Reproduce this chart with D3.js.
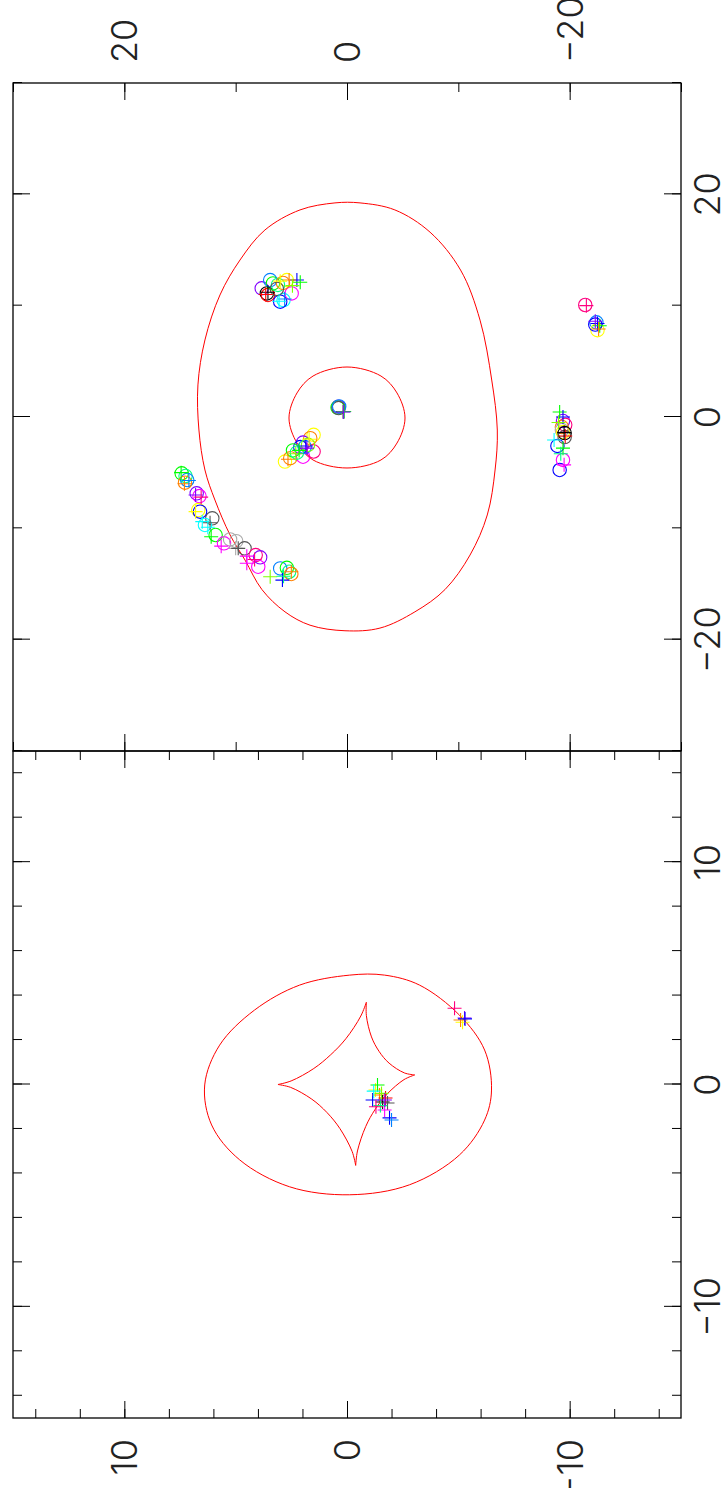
<!DOCTYPE html>
<html><head><meta charset="utf-8">
<script src="https://cdn.jsdelivr.net/npm/d3@7"></script>
<style>html,body{margin:0;padding:0;background:#fff;} svg{display:block;}</style>
</head><body>
<script>
// ---------- data ----------
const palette = ["#000000","#ff0000","#00ff00","#0000ff","#00ffff","#ff00ff","#ffff00","#ff8000",
                 "#80ff00","#00ff80","#0080ff","#8000ff","#ff0080","#555555","#aaaaaa"];

// source plane (left panel) tick values
const srcMajorTicks = [-10, 0, 10];
const srcMinorTicks = [-14,-12,-10,-8,-6,-4,-2,0,2,4,6,8,10,12,14];
const srcTickLabels = ["\u221210", "0", "10"];
// image plane (right panel) tick values
const imgMajorTicks = [-20, 0, 20];
const imgMinorTicks = [-30,-20,-10,0,10,20,30];
const imgTickLabels = ["\u221220", "0", "20"];

// outer critical curve (image plane)
const outerCritical = [[19.23,1.08],[18.6,4.22],[16.8,7.37],[14.1,9.61],[10.96,11.41],[6.92,12.76],[2.88,13.39],
  [-1.17,13.3],[-4.76,12.76],[-7.46,11.86],[-10.6,10.5],[-12.85,9.16],[-15.5,7.64],[-17.5,5.57],[-18.7,3.32],
  [-19.2,0.18],[-18.96,-2.96],[-17.5,-6.1],[-15.5,-8.8],[-12.4,-11.05],[-8.8,-12.6],[-4.76,-13.3],[-1.17,-13.5],
  [3.32,-13.0],[8.7,-11.95],[13.2,-10.2],[16.6,-7.46],[18.6,-4.3],[19.23,-1.17]];
// inner critical curve (image plane)
const innerCritical = [[-0.09,5.21],[2.16,4.49],[3.68,3.05],[4.49,0],[3.68,-3.05],[2.16,-4.49],[-0.09,-5.21],
  [-2.34,-4.49],[-3.86,-3.05],[-4.58,0],[-3.86,3.05],[-2.34,4.49]];
// outer caustic (source plane)
const outerCaustic = [[4.92,-0.12],[4.47,2.13],[3.35,4.15],[1.77,5.72],[-0.02,6.39],[-1.82,6.08],[-3.39,4.82],
  [-4.6,2.58],[-4.96,-0.12],[-4.51,-2.81],[-3.17,-5.05],[-1.6,-6.18],[-0.25,-6.49],[1.55,-6.18],[3.12,-5.05],
  [4.47,-3.26],[4.92,-1.69]];
// astroid caustic (source plane), four arcs between cusps
const astroidArcs = [
  [[3.7,-0.87],[3.08,-0.62],[2.06,0.05],[1.34,0.73],[0.72,1.49],[0.16,2.51],[0,3.1]],
  [[0,3.1],[-0.13,2.53],[-0.66,1.58],[-1.26,0.9],[-1.98,0.32],[-3.01,-0.23],[-3.64,-0.39]],
  [[-3.64,-0.39],[-2.99,-0.47],[-1.89,-0.84],[-1.11,-1.27],[-0.43,-1.8],[0.22,-2.56],[0.43,-3.04]],
  [[0.43,-3.04],[0.52,-2.58],[0.96,-1.89],[1.49,-1.44],[2.14,-1.1],[3.1,-0.87],[3.7,-0.87]]
];

// observed images (circles) in image plane: x, y, colour index
const imgCircles = [
  [-5.06,14.85,2],[-5.3,14.5,9],[-5.66,14.35,10],[-5.9,14.55,7],[-6.86,13.5,11],[-7.1,13.25,5],[-8.36,13.36,6],
  [-8.5,13.2,3],[-9.1,12.1,13],[-9.7,12.76,4],[-10.6,11.8,2],[-11.35,11.05,5],[-11.0,10.5,14],[-11.15,9.95,14],
  [-11.8,9.2,13],[-12.4,8.2,12],[-12.6,7.8,11],[-13.45,7.97,5],[-13.6,6.0,10],[-13.55,5.4,2],[-13.9,5.2,9],[-14.1,5.0,7],
  [11.56,7.66,11],[11.1,7.2,0],[10.96,7.1,1],[12.0,6.65,2],[12.3,6.9,10],[12.3,5.4,6],[10.5,5.7,4],[10.36,6.0,3],
  [11.1,4.97,5],[11.86,6.2,9],[12.04,5.75,7],[11.5,6.3,13],
  [0.93,0.78,11],[0.85,0.85,2],[0.8,0.75,13],[0.95,0.7,10],
  [-4.0,5.57,6],[-3.7,5.1,7],[-1.6,3.0,6],[-1.9,3.3,7],[-2.3,3.95,11],[-2.7,4.2,3],[-3.57,3.95,5],[-3.1,3.0,12],
  [-3.0,4.85,2],[-3.2,4.5,9],[-2.7,3.8,10],[-2.5,3.5,8],
  [-4.76,-19.1,3],[-3.86,-19.4,5],[-2.6,-18.9,3],[-0.36,-19.4,11],[-0.7,-19.6,12],[-0.9,-19.3,7],[-1.17,-19.3,14],
  [-1.35,-19.4,6],[-1.44,-19.55,0],[-1.8,-19.55,13],
  [10.06,-21.4,12],[8.5,-22.4,10],[7.8,-22.5,6],[8.3,-22.3,3]
];
// predicted images (plus) in image plane
const imgPluses = [
  [-5.0,14.9,2],[-6.0,14.6,7],[-5.7,14.2,10],[-7.0,13.6,11],[-7.2,13.1,12],[-8.5,13.6,6],[-9.4,13.0,4],[-9.5,12.3,13],
  [-9.9,12.5,4],[-10.75,12.2,2],[-11.6,11.3,5],[-11.8,10.0,14],[-11.8,9.77,13],[-12.5,9.0,5],[-12.8,8.3,12],[-13.14,9.0,5],
  [-14.35,6.9,8],[-14.65,5.8,3],[-14.3,5.7,9],[-13.9,5.0,7],
  [12.3,4.5,3],[12.1,4.2,2],[12.3,5.2,7],[10.6,5.6,10],[11.2,7.1,0],[11.8,4.9,8],[11.0,7.3,1],[12.2,6.0,6],[10.4,6.1,4],
  [0.48,0.36,13],[0.5,0.25,2],[0.45,0.3,11],
  [-3.8,5.3,7],[-3.3,4.6,8],[-2.6,3.7,3],[-2.0,3.4,6],[-3.0,4.3,2],[-2.8,3.6,11],
  [0.45,-19.1,2],[0.0,-19.4,3],[-2.07,-18.6,4],[-2.8,-19.4,2],[-1.7,-19.6,1],[-1.4,-19.5,0],[-0.5,-19.0,8],
  [-4.3,-19.5,5],[-3.3,-19.2,9],
  [10.0,-21.5,12],[8.4,-22.5,3],[8.2,-22.7,2],[8.6,-22.3,11],[7.9,-22.6,7]
];
// source positions (plus) in source plane
const srcPluses = [
  [-0.25,-1.28,6],[-0.02,-1.37,2],[-0.70,-1.15,3],[-0.47,-1.46,7],[-0.79,-1.60,0],[-0.61,-1.73,1],[-0.83,-1.82,13],
  [-1.15,-1.69,5],[-1.5,-1.91,3],[-1.6,-2.0,10],[-0.95,-1.5,9],[-0.3,-1.2,4],[-0.4,-1.55,8],[-1.0,-1.3,12],[-0.7,-1.7,11],
  [3.43,-4.83,12],[2.99,-5.28,11],[2.8,-5.19,6],[2.9,-5.1,7],[2.95,-5.3,3]
];

// ---------- drawing ----------
const W = 728, H = 1488;
const svg = d3.select("body").append("svg").attr("width", W).attr("height", H);
svg.append("rect").attr("width", W).attr("height", H).attr("fill", "#fff");
// landscape frame rotated into portrait page
const g = svg.append("g").attr("transform", `translate(0,${H}) rotate(-90)`);

const yTop = 13, yBot = 681;
const srcX = d3.scaleLinear().domain([-15, 15]).range([70, 737]);
const srcY = d3.scaleLinear().domain([-15, 15]).range([yBot, yTop]);
const imgX = d3.scaleLinear().domain([-30, 30]).range([737, 1405]);
const imgY = d3.scaleLinear().domain([-30, 30]).range([yBot, yTop]);

const FONT = "Inter, 'DejaVu Sans', sans-serif";
const FS = 36;
const MAJ = 17, MIN = 9;

function drawAxes(xs, ys, majT, minT, labels, yLabelSide) {
  const x0 = xs.range()[0], x1 = xs.range()[1];
  const bMin = d3.axisBottom(xs).tickValues(minT).tickSize(-MIN).tickFormat("");
  const bMaj = d3.axisBottom(xs).tickValues(majT).tickSize(-MAJ).tickFormat("");
  const tMin = d3.axisTop(xs).tickValues(minT).tickSize(-MIN).tickFormat("");
  const tMaj = d3.axisTop(xs).tickValues(majT).tickSize(-MAJ).tickFormat("");
  const lMin = d3.axisLeft(ys).tickValues(minT).tickSize(-MIN).tickFormat("");
  const lMaj = d3.axisLeft(ys).tickValues(majT).tickSize(-MAJ).tickFormat("");
  const rMin = d3.axisRight(ys).tickValues(minT).tickSize(-MIN).tickFormat("");
  const rMaj = d3.axisRight(ys).tickValues(majT).tickSize(-MAJ).tickFormat("");
  [[bMin,`translate(0,${yBot})`],[bMaj,`translate(0,${yBot})`],
   [tMin,`translate(0,${yTop})`],[tMaj,`translate(0,${yTop})`],
   [lMin,`translate(${x0},0)`],[lMaj,`translate(${x0},0)`],
   [rMin,`translate(${x1},0)`],[rMaj,`translate(${x1},0)`]].forEach(([a,t]) => {
    const s = g.append("g").attr("transform", t).call(a);
    s.select(".domain").remove();
    s.selectAll("line").attr("stroke", "#000").attr("stroke-width", 1);
  });
  g.append("rect").attr("x", x0).attr("y", yTop).attr("width", x1 - x0).attr("height", yBot - yTop)
    .attr("fill", "none").attr("stroke", "#000").attr("stroke-width", 1.3);
  g.append("g").selectAll("text").data(majT).join("text")
    .attr("x", d => xs(d)).attr("y", yBot + 39)
    .attr("text-anchor", "middle").attr("font-family", FONT).attr("font-weight", 300)
    .attr("font-size", FS).attr("fill", "#222")
    .text((d, i) => labels[i]);
  g.append("g").selectAll("text").data(majT).join("text")
    .attr("x", yLabelSide === "left" ? x0 - 21 : x1 + 20)
    .attr("y", d => ys(d)).attr("dy", "0.36em")
    .attr("text-anchor", yLabelSide === "left" ? "end" : "start")
    .attr("font-family", FONT).attr("font-weight", 300)
    .attr("font-size", FS).attr("fill", "#222")
    .text((d, i) => labels[i]);
}

drawAxes(srcX, srcY, srcMajorTicks, srcMinorTicks, srcTickLabels, "left");
drawAxes(imgX, imgY, imgMajorTicks, imgMinorTicks, imgTickLabels, "right");

const srcLineClosed = d3.line().x(d => srcX(d[0])).y(d => srcY(d[1])).curve(d3.curveCatmullRomClosed);
const srcLineOpen = d3.line().x(d => srcX(d[0])).y(d => srcY(d[1])).curve(d3.curveCatmullRom);
const imgLineClosed = d3.line().x(d => imgX(d[0])).y(d => imgY(d[1])).curve(d3.curveCatmullRomClosed);

g.append("path").attr("d", imgLineClosed(outerCritical)).attr("fill", "none").attr("stroke", "#ff0000").attr("stroke-width", 1);
g.append("path").attr("d", imgLineClosed(innerCritical)).attr("fill", "none").attr("stroke", "#ff0000").attr("stroke-width", 1);
g.append("path").attr("d", srcLineClosed(outerCaustic)).attr("fill", "none").attr("stroke", "#ff0000").attr("stroke-width", 1);
astroidArcs.forEach(a => g.append("path").attr("d", srcLineOpen(a)).attr("fill", "none").attr("stroke", "#ff0000").attr("stroke-width", 1));

const R = 6.7, P = 7;
function plusPath(cx, cy) { return `M${cx - P},${cy}H${cx + P}M${cx},${cy - P}V${cy + P}`; }

g.append("g").selectAll("circle").data(imgCircles).join("circle")
  .attr("cx", d => imgX(d[0])).attr("cy", d => imgY(d[1])).attr("r", R)
  .attr("fill", "none").attr("stroke", d => palette[d[2]]).attr("stroke-width", 1.1);
g.append("g").selectAll("path").data(imgPluses).join("path")
  .attr("d", d => plusPath(imgX(d[0]), imgY(d[1])))
  .attr("fill", "none").attr("stroke", d => palette[d[2]]).attr("stroke-width", 1.1);
g.append("g").selectAll("path").data(srcPluses).join("path")
  .attr("d", d => plusPath(srcX(d[0]), srcY(d[1])))
  .attr("fill", "none").attr("stroke", d => palette[d[2]]).attr("stroke-width", 1.1);
</script>
</body></html>
